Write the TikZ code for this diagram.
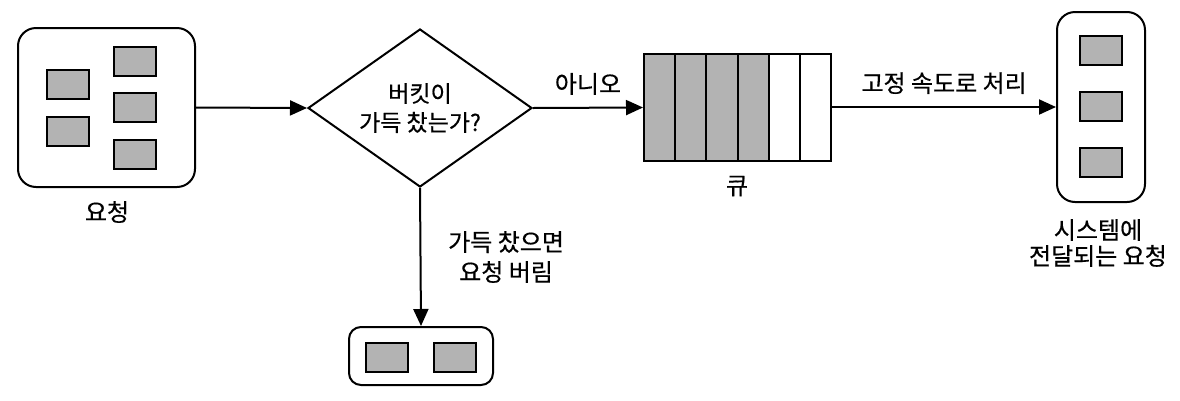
\documentclass[tikz,border=0pt]{standalone}
\usepackage{fontspec}
\setmainfont{Noto Sans CJK KR}[FakeBold=0.5]
\usetikzlibrary{arrows.meta,shapes.geometric}
\definecolor{reqgray}{HTML}{B3B3B3}
\tikzset{
  every picture/.style={x=1pt,y=-1pt},
  holder/.style={draw, line width=2pt, rounded corners=18pt, inner sep=0pt},
  req/.style={draw, fill=reqgray, line width=2pt, minimum width=42pt, minimum height=29pt, inner sep=0pt},
  cell/.style={draw, line width=2pt, minimum width=31.2pt, minimum height=107pt, inner sep=0pt},
  flow/.style={line width=2pt, -{Triangle[length=17pt,width=15pt]}},
  lbl/.style={font=\fontsize{24}{28}\selectfont, align=center, inner sep=0pt},
}
\begin{document}
\begin{tikzpicture}
\useasboundingbox (0,0) rectangle (1180,400);

% incoming requests
\node[holder, minimum width=177pt, minimum height=159pt] (src) at (106.5,107.5) {};
\node[req] (s1) at (67.5,84.5) {};
\node[req] (s2) at (67.5,131.5) {};
\node[req] (s3) at (135,61.5) {};
\node[req] (s4) at (135,107.5) {};
\node[req] (s5) at (135,154.5) {};
\node[lbl] (srclbl) at (107,212) {요청};

% decision diamond, its question set as a separate node
\node[draw, diamond, line width=2pt, minimum width=224pt, minimum height=158pt, inner sep=0pt] (dec) at (420,108) {};
\node[lbl, font=\fontsize{23}{29}\selectfont] (q) at (dec.center) {버킷이\\가득 찼는가?};

% queue
\foreach \i in {1,...,6} {
  \ifnum\i<5 \def\fc{reqgray}\else \def\fc{white}\fi
  \node[cell, fill=\fc] (q\i) at ({644+31.2*(\i-0.5)},107.5) {};
}
\node[lbl] (qlbl) at (737,186) {큐};

% delivered requests
\node[holder, minimum width=88pt, minimum height=190pt] (dst) at (1101,107) {};
\node[req] (d1) at (1101,50.5) {};
\node[req] (d2) at (1101,106.5) {};
\node[req] (d3) at (1101,162.5) {};
\node[lbl, font=\fontsize{24}{26}\selectfont] (dstlbl) at (1098,243) {시스템에\\전달되는 요청};

% dropped requests
\node[holder, rounded corners=12pt, minimum width=144pt, minimum height=58pt] (drop) at (421,356) {};
\node[req] (r1) at (387,357.5) {};
\node[req] (r2) at (454.5,357.5) {};

% connectors
\draw[flow] (src.east) -- (dec.west);
\draw[flow] (dec.east) -- node[lbl, above=12pt] (no) {아니오} (q1.west);
\draw[flow] (q6.east |- dst.west) -- node[lbl, above=12pt] (rate) {고정 속도로 처리} (dst.west);
\draw[flow] (dec.south) -- (drop.north);
\node[lbl, anchor=west, font=\fontsize{24}{30}\selectfont] (droplbl) at (448,257) {가득 찼으면\\요청 버림};
\end{tikzpicture}
\end{document}
